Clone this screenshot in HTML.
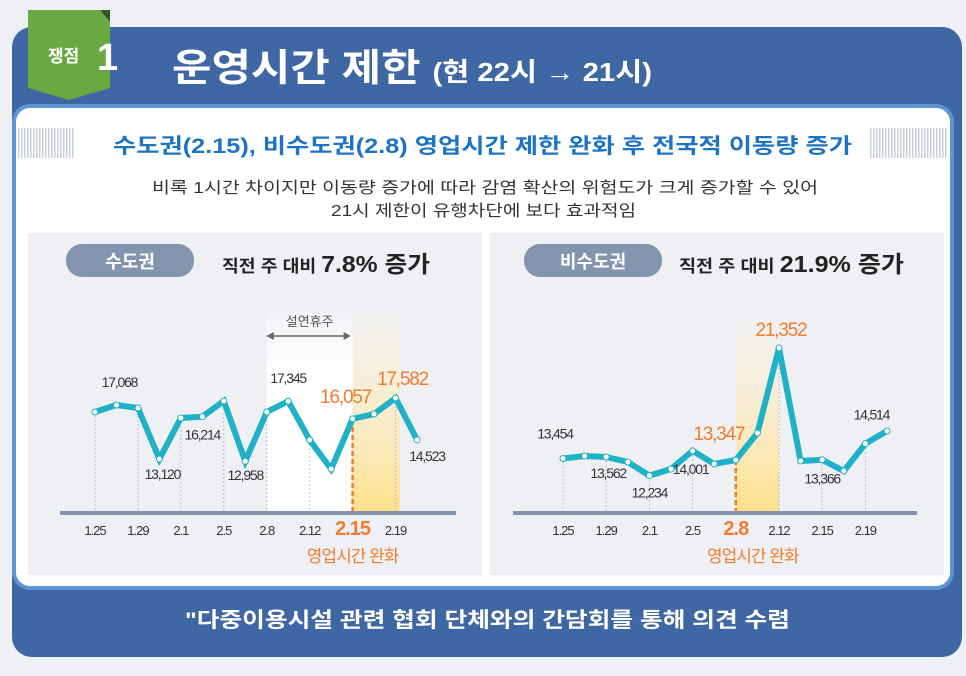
<!DOCTYPE html>
<html><head><meta charset="utf-8"><style>
body{margin:0;width:966px;height:671px;background:#eef0f4;overflow:hidden;font-family:"Liberation Sans","Noto Sans CJK KR",sans-serif}
</style></head><body>
<svg width="966" height="671" viewBox="0 0 966 671" xmlns="http://www.w3.org/2000/svg" font-family="Liberation Sans, Noto Sans CJK KR, sans-serif" id="root">
<defs>
<linearGradient id="hl" x1="0" y1="0" x2="0" y2="1"><stop offset="0" stop-color="#fff3d6" stop-opacity="0.2"/><stop offset="1" stop-color="#ffe08a"/></linearGradient>
<linearGradient id="wh" x1="0" y1="0" x2="0" y2="1"><stop offset="0" stop-color="#fff" stop-opacity="0.2"/><stop offset="0.3" stop-color="#fff"/></linearGradient>
<pattern id="stripe" width="3" height="10" patternUnits="userSpaceOnUse"><rect width="1.5" height="10" fill="#c8cfdb"/></pattern>
</defs>
<rect x="12" y="27" width="950" height="630" rx="20" fill="#3f67a3"/>
<g>
<polygon points="28,10 100,10 110,22 110,88 69,100 28,88" fill="#6aa841"/>
<polygon points="100,10 110,10 110,22" fill="#2f5a20"/>
<text x="48" y="62" font-size="17" fill="#fff" font-weight="bold">쟁점</text>
<text x="97" y="70" font-size="38" fill="#fff" font-weight="bold">1</text>
</g>
<text x="172" y="81" font-size="38" fill="#fff" font-weight="bold" textLength="480" lengthAdjust="spacingAndGlyphs">운영시간 제한 <tspan font-size="26">(현 22시 → 21시)</tspan></text>
<rect x="14" y="106" width="938" height="482" rx="16" fill="#fff" stroke="#5b95d2" stroke-width="4"/>
<rect x="18" y="128" width="56" height="30" fill="url(#stripe)"/>
<rect x="870" y="128" width="78" height="30" fill="url(#stripe)"/>
<text x="113" y="153" font-size="21" fill="#1d74c2" font-weight="bold" textLength="739" lengthAdjust="spacingAndGlyphs">수도권(2.15), 비수도권(2.8) 영업시간 제한 완화 후 전국적 이동량 증가</text>
<text x="152" y="193" font-size="16" fill="#333" textLength="666" lengthAdjust="spacingAndGlyphs">비록 1시간 차이지만 이동량 증가에 따라 감염 확산의 위험도가 크게 증가할 수 있어</text>
<text x="331" y="216" font-size="16" fill="#333" textLength="305" lengthAdjust="spacingAndGlyphs">21시 제한이 유행차단에 보다 효과적임</text>
<rect x="28" y="233" width="454" height="342" fill="#eef0f4"/>
<rect x="490" y="233" width="454" height="342" fill="#eef0f4"/>
<rect x="66" y="244" width="128" height="33" rx="16" fill="#8394ae"/>
<text x="130" y="268" font-size="18" fill="#fff" text-anchor="middle" font-weight="bold">수도권</text>
<text x="222" y="272" font-size="17" fill="#222" font-weight="bold" textLength="208" lengthAdjust="spacingAndGlyphs">직전 주 대비 <tspan font-size="23">7.8% 증가</tspan></text>
<rect x="524" y="244" width="138" height="33" rx="16" fill="#8394ae"/>
<text x="593" y="268" font-size="18" fill="#fff" text-anchor="middle" font-weight="bold">비수도권</text>
<text x="679" y="272" font-size="17" fill="#222" font-weight="bold" textLength="225" lengthAdjust="spacingAndGlyphs">직전 주 대비 <tspan font-size="23">21.9% 증가</tspan></text>
<g id="charts"></g>
<text x="185" y="627" font-size="21" fill="#fff" font-weight="bold" textLength="605" lengthAdjust="spacingAndGlyphs">"다중이용시설 관련 협회 단체와의 간담회를 통해 의견 수렴</text>
</svg>
<script>
const leftValues=[16556,17068,16849,13120,16118,16214,17360,12958,16556,17345,14510,12390,16057,16410,17582,14523];
const rightValues=[13454,13633,13562,13204,12234,12700,14001,13061,13347,15277,21352,13276,13366,12560,14514,15420];
const tickLabels=["1.25","1.29","2.1","2.5","2.8","2.12","2.15","2.19"];
const tickIdx=[0,2,4,6,8,10,12,14];
const leftLabelIdx=[1,3,5,7,9,12,14,15];
const rightLabelIdx=[0,2,4,6,8,10,12,14];
const NS="http://www.w3.org/2000/svg";
const g=document.getElementById('charts');
function mk(t,a,p){const e=document.createElementNS(NS,t);for(const k in a)e.setAttribute(k,a[k]);(p||g).appendChild(e);return e;}
function fmt(v){return v.toLocaleString('en-US');}
function chart(cfg){
  const n=cfg.values.length;
  const x=i=>cfg.x0+i*(cfg.x1-cfg.x0)/(n-1);
  const y=v=>cfg.yRef-(v-cfg.vRef)*cfg.k;
  const grp=mk('g',{});
  
  
  cfg.bands.forEach(b=>{const r=mk('rect',{x:x(b[0]),y:b[2],width:x(b[1])-x(b[0]),height:cfg.base-b[2],fill:b[3]},grp);
    });
  tickIdx.forEach((ti,j)=>{
    mk('line',{x1:x(ti),x2:x(ti),y1:y(cfg.values[ti]),y2:cfg.base,stroke:'#b8c0cc','stroke-dasharray':'2,2'},grp);
    const hi=ti===cfg.relax;
    const t=mk('text',{x:x(ti),y:cfg.base+22,'font-size':hi?20:13,fill:hi?'#f07d2e':'#333','text-anchor':'middle','letter-spacing':'-1','font-weight':hi?'bold':'normal'},grp);
    t.textContent=tickLabels[j];
    
  });
  const d=mk('line',{x1:x(cfg.relax),x2:x(cfg.relax),y1:y(cfg.values[cfg.relax]),y2:cfg.base,stroke:'#f07d2e','stroke-width':2.5,'stroke-dasharray':'5,3'},grp);
  
  const ax=mk('line',{x1:cfg.ax0,x2:cfg.ax1,y1:cfg.base,y2:cfg.base,stroke:'#8494ae','stroke-width':4},grp);
  
  const ln=mk('polyline',{points:cfg.values.map((v,i)=>x(i)+','+y(v)).join(' '),fill:'none',stroke:'#1fb1c6','stroke-width':6,'stroke-linejoin':'miter'},grp);
  
  cfg.values.forEach((v,i)=>{const c=mk('circle',{cx:x(i),cy:y(v),r:3,fill:'#fff',stroke:'#1fb1c6','stroke-width':1},grp);
    });
  cfg.labelIdx.forEach((i,j)=>{const o=cfg.labelPos[j];const hi=o[2];
    const t=mk('text',{x:x(i)+o[0],y:y(cfg.values[i])+o[1],'font-size':hi?19:14,fill:hi?'#f07d2e':'#333','text-anchor':'middle','letter-spacing':'-1.2'},grp);
    t.textContent=fmt(cfg.values[i]);
    });
  const r=mk('text',{x:x(cfg.relax)+cfg.relaxOff,y:cfg.base+49,'font-size':17,fill:'#f07d2e','text-anchor':'middle','letter-spacing':'-1'},grp);
  r.textContent='영업시간 완화';
  return x;
}
const lx=chart({name:'left-chart',values:leftValues,x0:95,x1:417,yRef:405,vRef:17068,k:0.01368,base:513,ax0:60,ax1:456,relax:12,relaxOff:0,
  labelIdx:leftLabelIdx,labelPos:[[3,-18,0],[3,20,0],[0,23,0],[0,19,0],[0,-18,0],[-7,-16,1],[7,-13,1],[10,21,0]],
  bands:[[8,12,312,'url(#wh)'],[12,14.2,312,'url(#hl)']]});
mk('line',{x1:lx(8),x2:lx(12)-4,y1:336,y2:336,stroke:'#666','stroke-width':1.5});
mk('polygon',{points:`${lx(8)},336 ${lx(8)+7},332 ${lx(8)+7},340`,fill:'#666'});
mk('polygon',{points:`${lx(12)-2},336 ${lx(12)-9},332 ${lx(12)-9},340`,fill:'#666'});
const sl=mk('text',{x:(lx(8)+lx(12))/2,y:326,'font-size':13,fill:'#555','text-anchor':'middle'});sl.textContent='설연휴주';


chart({name:'right-chart',values:rightValues,x0:563,x1:887,yRef:460,vRef:13347,k:0.01399,base:513,ax0:513,ax1:917,relax:8,relaxOff:17,
  labelIdx:rightLabelIdx,labelPos:[[-8,-20,0],[2,21,0],[0,22,0],[-2,23,0],[-17,-20,1],[2,-12,1],[0,24,0],[6,-24,0]],
  bands:[[8,10,320,'url(#hl)']]});
</script>
</body></html>
